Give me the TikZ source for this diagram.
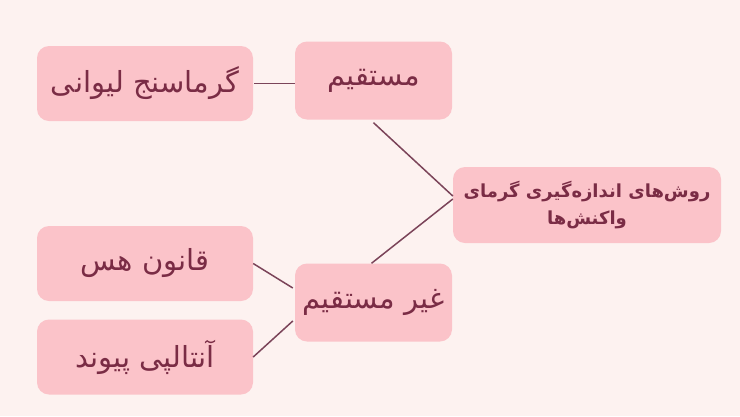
\documentclass[tikz,border=0pt]{standalone}
\usepackage{fontspec}
\TeXXeTstate=1
\newfontfamily\arabicfont[Script=Arabic]{DejaVu Sans}
\newfontfamily\arabicbold[Script=Arabic]{DejaVu Sans Bold}
\definecolor{bgc}{HTML}{FDF2F0}
\definecolor{boxc}{HTML}{FBC3C9}
\definecolor{txtc}{HTML}{7A2C45}
\definecolor{linec}{HTML}{7B4459}
\tikzset{
  box/.style={fill=boxc, draw=none, rounded corners=12pt, inner sep=0pt, text=txtc, align=center},
  leafbox/.style={box, minimum width=216pt, minimum height=75pt, font=\arabicfont\fontsize{29}{34}\selectfont},
  midbox/.style={box, minimum width=157pt, minimum height=78pt, font=\arabicfont\fontsize{29}{34}\selectfont},
  rootbox/.style={box, minimum width=268pt, minimum height=76pt, font=\arabicbold\fontsize{18}{27}\selectfont},
  link/.style={draw=linec, line width=1.5pt}
}
\begin{document}
\begin{tikzpicture}[x=1pt,y=-1pt]
\fill[bgc] (0,0) rectangle (740,416);
\useasboundingbox (0,0) rectangle (740,416);
\node[rootbox] (root) at (587,205) {\beginR روش‌های اندازه‌گیری گرمای\endR\\\beginR واکنش‌ها\endR};
\node[midbox] (m) at (373.5,80.5) {\beginR مستقیم\endR};
\node[midbox] (n) at (373.5,302.5) {\beginR غیر مستقیم\endR};
\node[leafbox] (g) at (145,83.5) {\beginR گرماسنج لیوانی\endR};
\node[leafbox] (h) at (145,263.5) {\beginR قانون هس\endR};
\node[leafbox] (a) at (145,357) {\beginR آنتالپی پیوند\endR};
\draw[link] ([xshift=1pt]g.east) -- (g.east -| m.west);
\draw[link] ([yshift=-3pt]m.south) -- ([yshift=9pt]root.west);
\draw[link] ([xshift=-2pt]n.north) -- ([yshift=6pt]root.west);
\draw[link] (h.east) -- ([xshift=-2pt,yshift=14.5pt]n.west);
\draw[link] (a.east) -- ([xshift=-2pt,yshift=-18.5pt]n.west);
\end{tikzpicture}
\end{document}
